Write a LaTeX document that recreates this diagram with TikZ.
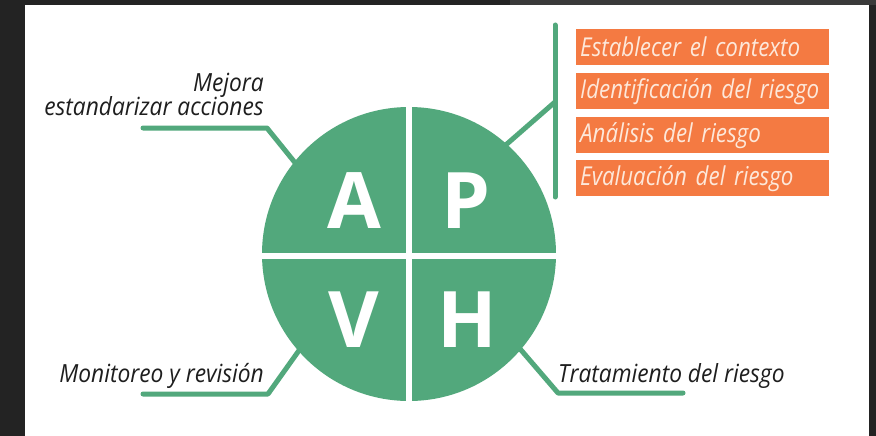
\documentclass[tikz,border=0pt]{standalone}
\usepackage{fontspec}
\setmainfont{Open Sans}
\newfontfamily\condit[FakeStretch=0.91]{Open Sans}
\newfontfamily\condbox[FakeStretch=0.86]{Open Sans}
\definecolor{apgreen}{RGB}{82,168,124}
\definecolor{aporange}{RGB}{244,122,66}
\definecolor{aptext}{RGB}{253,232,218}
\definecolor{bgdark}{RGB}{35,35,35}
\definecolor{bglight}{RGB}{58,58,58}
\definecolor{lbltext}{RGB}{30,30,30}
\begin{document}
\begin{tikzpicture}[x=1pt,y=-1pt,
  conn/.style={line width=5pt, apgreen, line cap=round, line join=round},
  gap/.style={line width=6pt, white},
  letter/.style={font=\fontsize{78}{78}\selectfont\bfseries, text=white, inner sep=0pt, anchor=base},
  obox/.style={anchor=north west, fill=aporange, text=aptext, minimum height=36pt, text width=245pt, inner xsep=4pt, inner ysep=0pt, align=left, font=\condbox\itshape\fontsize{26}{26}\selectfont},
  lbl/.style={text=lbltext, inner sep=0pt, font=\condit\itshape\fontsize{25}{25}\selectfont}]
\fill[bgdark] (0,0) rectangle (876,436);
\fill[bglight] (510,0) rectangle (876,5);
\fill[white] (25,5) rectangle (869,436);
\useasboundingbox (0,0) rectangle (876,436);
% connectors
\coordinate (tl1) at (143,128);
\coordinate (tl2) at (267,128);
\coordinate (tl3) at (305,175);
\coordinate (trA) at (555,25);
\coordinate (trB) at (555,197);
\coordinate (trJ) at (555,102);
\coordinate (tr3) at (500,150);
\coordinate (bl1) at (143,394);
\coordinate (bl2) at (268,394);
\coordinate (bl3) at (305,342);
\coordinate (br1) at (683,393);
\coordinate (br2) at (558,393);
\coordinate (br3) at (515,343);
\draw[conn] (tl1) -- (tl2) -- (tl3);
\draw[conn] (trA) -- (trB);
\draw[conn] (trJ) -- (tr3);
\draw[conn] (bl1) -- (bl2) -- (bl3);
\draw[conn] (br1) -- (br2) -- (br3);
% circle
\node[circle, fill=apgreen, minimum size=294pt, inner sep=0pt] (cyc) at (409,254) {};
\coordinate (gv1) at (409,100);
\coordinate (gv2) at (409,408);
\coordinate (gh1) at (258,256);
\coordinate (gh2) at (560,256);
\draw[gap] (gv1) -- (gv2);
\draw[gap] (gh1) -- (gh2);
\node[letter] (qa) at (354,228) {A};
\node[letter] (qp) at (466,228) {P};
\node[letter] (qv) at (354,347) {V};
\node[letter] (qh) at (467,347) {H};
% orange boxes
\node[obox] (b1) at (576,29) {Establecer el contexto};
\node[obox] (b2) at (576,73) {Identificación del riesgo};
\node[obox] (b3) at (576,117) {Análisis del riesgo};
\node[obox] (b4) at (576,160) {Evaluación del riesgo};
% labels
\node[lbl, anchor=base east] (m1) at (264,92) {Mejora};
\node[lbl, anchor=base east] (m2) at (264,115) {estandarizar acciones};
\node[lbl, anchor=base east] (mo) at (264,382) {Monitoreo y revisión};
\node[lbl, anchor=base west] (tr) at (558,382) {Tratamiento del riesgo};
\end{tikzpicture}
\end{document}
